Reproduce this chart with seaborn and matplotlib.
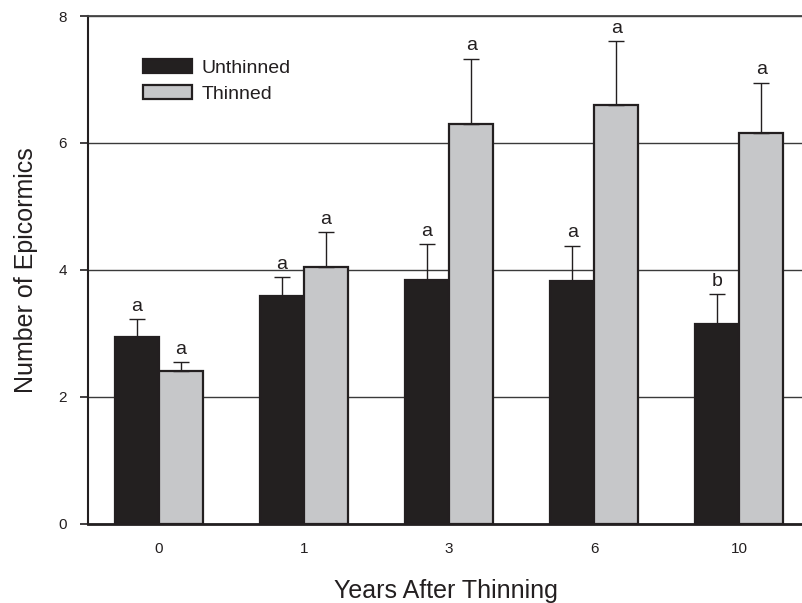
import matplotlib
matplotlib.use("Agg")
import matplotlib.pyplot as plt
import seaborn as sns
import pandas as pd
import numpy as np

years = ["0", "1", "3", "6", "10"]
unthinned_mean = [2.94, 3.59, 3.84, 3.82, 3.15]
unthinned_err = [0.28, 0.30, 0.57, 0.56, 0.46]
thinned_mean = [2.41, 4.05, 6.30, 6.60, 6.16]
thinned_err = [0.13, 0.54, 1.03, 1.00, 0.79]
unthinned_letters = ["a", "a", "a", "a", "b"]
thinned_letters = ["a", "a", "a", "a", "a"]
groups = ["Unthinned", "Thinned"]

sns.set_style("white")
plt.rcParams['font.family'] = ['Liberation Sans', 'DejaVu Sans']

df = pd.DataFrame({
    "Year": years * 2,
    "Treatment": [groups[0]] * len(years) + [groups[1]] * len(years),
    "Mean": unthinned_mean + thinned_mean,
})

dark = "#231f20"
light = "#c6c7c9"

fig = plt.figure(figsize=(8.03, 6.03), dpi=100)
ax = fig.add_axes([88 / 803, 1 - 523.5 / 603, 1 - 88 / 803, (523.5 - 16) / 603])

# gridlines behind bars
ax.set_axisbelow(True)
ax.yaxis.grid(True, color="#3a3a3a", linewidth=1.0)
ax.xaxis.grid(False)

sns.barplot(data=df, x="Year", y="Mean", hue="Treatment", order=years,
            hue_order=groups, palette=[dark, light], width=0.607, gap=0,
            edgecolor=dark, linewidth=1.6, errorbar=None, ax=ax, zorder=3)

# error bars and letters
bars = [p for p in ax.patches if p.get_width() > 0 and p.get_height() > 0]
bars_sorted = sorted(bars, key=lambda p: p.get_x())
means_all = []
errs_all = []
letters_all = []
for i in range(len(years)):
    means_all += [unthinned_mean[i], thinned_mean[i]]
    errs_all += [unthinned_err[i], thinned_err[i]]
    letters_all += [unthinned_letters[i], thinned_letters[i]]

for p, m, e, L in zip(bars_sorted, means_all, errs_all, letters_all):
    xc = p.get_x() + p.get_width() / 2
    ax.errorbar([xc], [m], yerr=[[0], [e]], fmt="none", ecolor=dark,
                elinewidth=1.0, capsize=5.5, capthick=1.0, zorder=4)
    ax.annotate(L, (xc, m + e), xytext=(0, 3), textcoords="offset points",
                ha="center", va="bottom", fontsize=14, color=dark)

ax.set_ylim(0, 8)
ax.set_xlim(-0.49, 4.44)
ax.set_yticks([0, 2, 4, 6, 8])
ax.set_yticklabels(["0", "2", "4", "6", "8"])

ax.tick_params(axis="y", direction="out", length=6, width=1.2, color=dark,
               pad=9, labelsize=11, labelcolor=dark, left=True)
ax.tick_params(axis="x", length=0, pad=13, labelsize=11, labelcolor=dark)

for s in ["left", "bottom", "top"]:
    ax.spines[s].set_visible(True)
    ax.spines[s].set_color(dark)
ax.spines["right"].set_visible(False)
ax.spines["left"].set_linewidth(1.5)
ax.spines["bottom"].set_linewidth(2.0)
ax.spines["top"].set_linewidth(1.3)
ax.spines["top"].set_color("#444444")

ax.set_xlabel("Years After Thinning", fontsize=18, color=dark, labelpad=17)
ax.set_ylabel("Number of Epicormics", fontsize=18, color=dark, labelpad=15)

leg = ax.legend(loc="upper left", bbox_to_anchor=(143 / 803, 1 - 59 / 603),
                bbox_transform=fig.transFigure, frameon=False, fontsize=14,
                handlelength=2.5, handleheight=0.75, handletextpad=0.5,
                labelspacing=0.4, borderpad=0, borderaxespad=0)
for t in leg.get_texts():
    t.set_color(dark)

fig.savefig("out.png", dpi=100)
